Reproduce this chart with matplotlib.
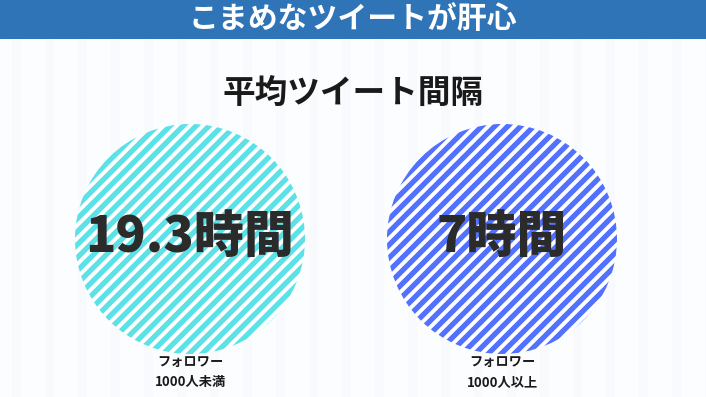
import numpy as np
import matplotlib
matplotlib.use("Agg")
import matplotlib.pyplot as plt
from matplotlib.patches import Circle, Rectangle
from matplotlib.collections import LineCollection

plt.rcParams['font.family'] = ['Noto Sans CJK JP', 'DejaVu Sans']

# ---- data ----
header_text = "こまめなツイートが肝心"
title_text = "平均ツイート間隔"
values = ["19.3時間", "7時間"]
group_line1 = ["フォロワー", "フォロワー"]
group_line2 = ["1000人未満", "1000人以上"]
circle_colors = ["#5ce1e6", "#5271ff"]

W, H = 706, 397
fig = plt.figure(figsize=(W / 100, H / 100), dpi=100)
ax = fig.add_axes([0, 0, 1, 1])
ax.set_xlim(0, W)
ax.set_ylim(H, 0)
ax.axis('off')

# background with very faint vertical stripes
ax.add_patch(Rectangle((0, 0), W, H, facecolor="#fcfdff", edgecolor="none", zorder=0))
for x0 in np.arange(12, W, 33):
    ax.add_patch(Rectangle((x0, 38.7), 9, H, facecolor="#f9fafe", edgecolor="none", zorder=0.5))

# header
ax.add_patch(Rectangle((0, 0), W, 38.7, facecolor="#2e74b7", edgecolor="none", zorder=1))
ax.text(W / 2, 20, header_text, color="white", fontsize=21.5, fontweight="bold",
        ha="center", va="center", zorder=2)

# title
ax.text(W / 2, 93, title_text, color="#1a1a1a", fontsize=23.5, fontweight="bold",
        ha="center", va="center", zorder=2)

centers_x = [190, 502]
cy = 239
r = 115
period = 13.0  # horizontal spacing of stripes (px)

for i, (val, col) in enumerate(zip(values, circle_colors)):
    cx = centers_x[i]
    circ = Circle((cx, cy), r, facecolor="white", edgecolor="none", zorder=2)
    ax.add_patch(circ)
    clip = Circle((cx, cy), r, transform=ax.transData)
    segs = []
    for c in np.arange(cx + cy - 2 * r - 20, cx + cy + 2 * r + 20, period):
        x1, x2 = cx - r - 5, cx + r + 5
        segs.append([(x1, c - x1), (x2, c - x2)])
    lc = LineCollection(segs, colors=col, linewidths=3.8, capstyle="butt", zorder=3)
    lc.set_clip_path(clip)
    ax.add_collection(lc)

    ax.text(cx, cy - 2, val, color="#2b2b2b", fontsize=36, fontweight="heavy",
            ha="center", va="center", zorder=4)
    ax.text(cx, 362, group_line1[i], color="#1a1a1a", fontsize=9.5, fontweight="bold",
            ha="center", va="center", zorder=4)
    ax.text(cx, 382, group_line2[i], color="#1a1a1a", fontsize=9.5, fontweight="bold",
            ha="center", va="center", zorder=4)

fig.savefig("out.png", dpi=100, facecolor="white")
